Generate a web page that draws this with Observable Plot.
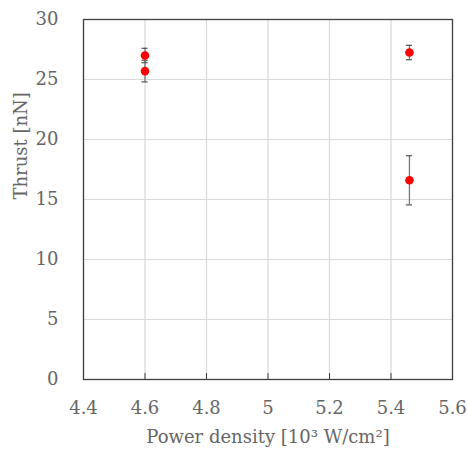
<!DOCTYPE html>
<html><head><meta charset="utf-8">
<script src="https://cdn.jsdelivr.net/npm/d3@7"></script>
<script src="https://cdn.jsdelivr.net/npm/@observablehq/plot@0.6"></script>
<style>body{margin:0;background:#fff}</style>
</head><body><div id="chart"></div>
<script>
const powerDensity = [4.6, 4.6, 5.46, 5.46];
const thrust = [27.0, 25.7, 27.25, 16.6];
const thrustErr = [0.6, 0.9, 0.6, 2.05];
const xTicks = [4.4, 4.6, 4.8, 5.0, 5.2, 5.4, 5.6];
const yTicks = [0, 5, 10, 15, 20, 25, 30];

const data = powerDensity.map((x, i) => ({x, y: thrust[i], lo: thrust[i] - thrustErr[i], hi: thrust[i] + thrustErr[i]}));
const capW = 0.01;
const font = "DejaVu Serif";
const textColor = "#666666";

const chart = Plot.plot({
  width: 467, height: 457,
  marginLeft: 83, marginRight: 15, marginTop: 19, marginBottom: 78,
  style: {fontFamily: font, fontSize: "18px", color: textColor, background: "#fff"},
  x: {domain: [4.4, 5.6], ticks: xTicks},
  y: {domain: [0, 30], ticks: yTicks},
  marks: [
    Plot.gridX(xTicks, {stroke: "#d9d9d9", strokeOpacity: 1, strokeWidth: 1.2}),
    Plot.gridY(yTicks, {stroke: "#d9d9d9", strokeOpacity: 1, strokeWidth: 1.2}),
    Plot.ruleX(xTicks, {x: d => d, y1: 0, y2: 0.5, stroke: "#404040", strokeWidth: 1}),
    Plot.axisX(xTicks, {tickSize: 0, tickPadding: 22, tickFormat: d => String(d), fill: textColor, fontSize: 18, label: null}),
    Plot.axisY(yTicks, {tickSize: 0, tickPadding: 25, fill: textColor, fontSize: 18, label: null}),
    Plot.frame({stroke: "#404040", strokeWidth: 1.3}),
    Plot.ruleX(data, {x: "x", y1: "lo", y2: "hi", stroke: "#777", strokeWidth: 1.3}),
    Plot.ruleY(data, {y: "lo", x1: d => d.x - capW, x2: d => d.x + capW, stroke: "#555", strokeWidth: 1.2}),
    Plot.ruleY(data, {y: "hi", x1: d => d.x - capW, x2: d => d.x + capW, stroke: "#555", strokeWidth: 1.2}),
    Plot.dot(data, {x: "x", y: "y", r: 4.3, fill: "#ff0000", stroke: "none"}),
    Plot.text(["Power density [10³ W/cm²]"], {frameAnchor: "bottom", dy: 63, text: d => d, fill: "#666666", fontSize: 18}),
    Plot.text(["Thrust [nN]"], {frameAnchor: "left", dx: -62, rotate: -90, text: d => d, fill: "#666666", fontSize: 18})
  ]
});
document.getElementById("chart").append(chart);
</script>
</body></html>
